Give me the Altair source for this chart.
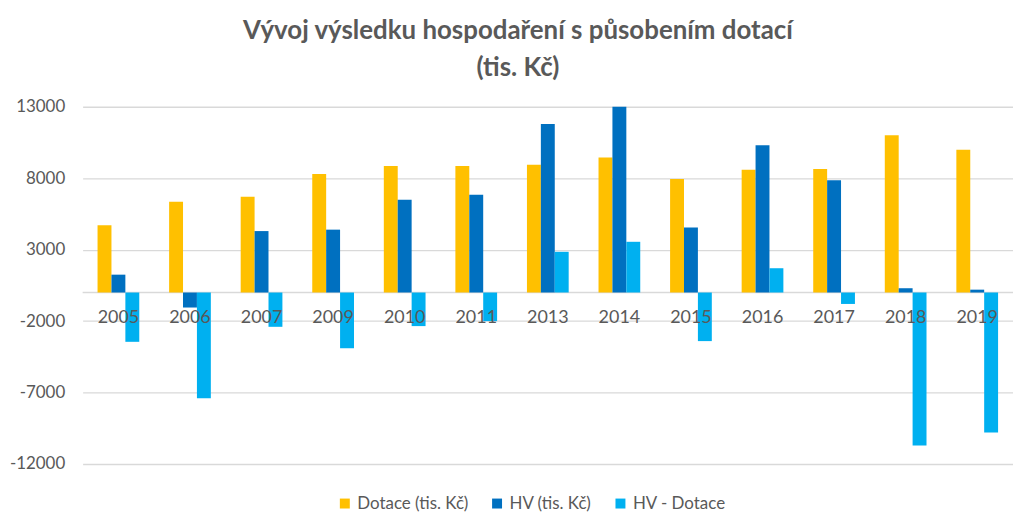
import altair as alt
import pandas as pd

years = ["2005", "2006", "2007", "2009", "2010", "2011", "2013", "2014", "2015", "2016", "2017", "2018", "2019"]
dotace = [4700, 6350, 6700, 8300, 8850, 8850, 8950, 9450, 7950, 8600, 8650, 11000, 10000]
hv = [1250, -1050, 4300, 4400, 6500, 6850, 11800, 13000, 4550, 10300, 7850, 300, 200]
hv_minus_dotace = [-3450, -7400, -2400, -3900, -2350, -2000, 2850, 3550, -3400, 1700, -800, -10700, -9800]

series_names = ["Dotace (tis. Kč)", "HV (tis. Kč)", "HV - Dotace"]
series_colors = ["#FFC000", "#0070C0", "#00B0F0"]
y_ticks = [-12000, -7000, -2000, 3000, 8000, 13000]

rows = []
for i, y in enumerate(years):
    for s, vals in zip(series_names, [dotace, hv, hv_minus_dotace]):
        rows.append({"rok": y, "serie": s, "hodnota": vals[i]})
df = pd.DataFrame(rows)
labels_df = pd.DataFrame({"rok": years})

FONT = "Lato"
GRAY = "#595959"

x_scale = alt.Scale(domain=years, paddingInner=0.417, paddingOuter=0.2085)
y_scale = alt.Scale(domain=[-12000, 13000], nice=False, zero=False)

bars = alt.Chart(df).mark_bar().encode(
    x=alt.X("rok:N", scale=x_scale, axis=None, sort=years),
    xOffset=alt.XOffset("serie:N", sort=series_names, scale=alt.Scale(domain=series_names)),
    y=alt.Y("hodnota:Q", scale=y_scale,
            axis=alt.Axis(values=y_ticks, title=None, domain=False, ticks=False,
                          grid=True, gridColor="#d9d9d9", gridWidth=1.3,
                          labelExpr="'' + datum.value",
                          labelColor=GRAY, labelFont=FONT, labelFontSize=17,
                          labelPadding=18)),
    color=alt.Color("serie:N", sort=series_names,
                    scale=alt.Scale(domain=series_names, range=series_colors),
                    legend=alt.Legend(title=None, orient="none", direction="horizontal",
                                      legendX=255, legendY=390, symbolType="square",
                                      symbolSize=100, symbolStrokeWidth=0,
                                      labelFont=FONT, labelFontSize=17, labelColor=GRAY,
                                      columnPadding=20, labelOffset=4)),
)

zero_line = alt.Chart(pd.DataFrame({"v": [0]})).mark_rule(color="#d9d9d9", strokeWidth=1.3).encode(
    y=alt.Y("v:Q", scale=y_scale)
)

labels = alt.Chart(labels_df).mark_text(
    font=FONT, fontSize=18, color=GRAY, dy=26
).encode(
    x=alt.X("rok:N", scale=x_scale, sort=years, axis=None),
    y=alt.YDatum(0),
    text="rok:N",
)

chart = alt.layer(zero_line, bars, labels).properties(
    width=935,
    height=359,
    padding={"left": 75, "top": 98, "right": 0, "bottom": 48},
    autosize=alt.AutoSizeParams(type="none"),
    title=alt.TitleParams(
        text=["Vývoj výsledku hospodaření s působením dotací", "(tis. Kč)"],
        font=FONT, fontSize=26, fontWeight="bold", color=GRAY,
        anchor="middle", dx=-30, offset=17, lineHeight=37,
    ),
).configure_view(stroke=None)

chart.save("out.html", embed_options={"renderer": "svg", "actions": False})
